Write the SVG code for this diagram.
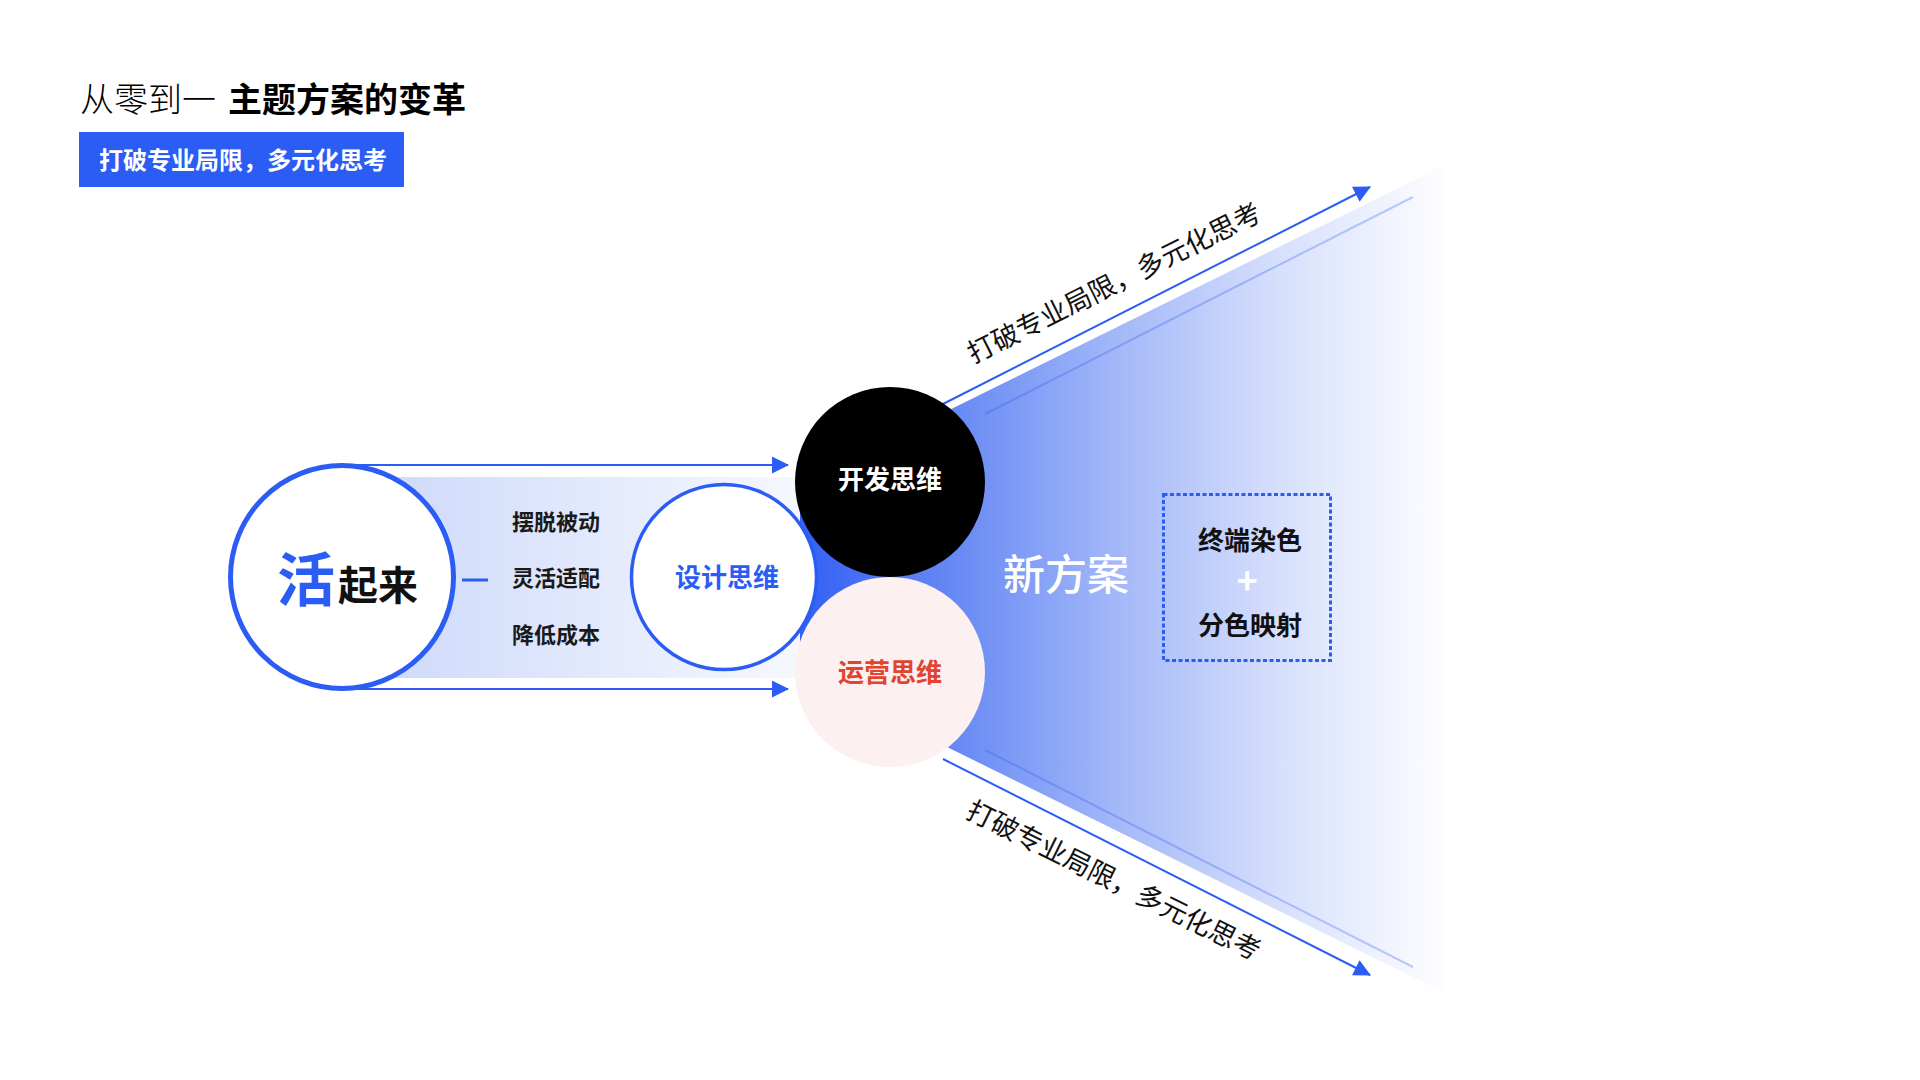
<svg xmlns="http://www.w3.org/2000/svg" width="1920" height="1080" viewBox="0 0 1920 1080">
<style>
  .t{font-family:'Noto Sans CJK SC','Noto Sans',sans-serif}
  .b{font-weight:700}
  .l{font-weight:300}
  .mid{text-anchor:middle}
  .arrow{stroke:#2b5df5;stroke-width:2;fill:none;marker-end:url(#ah)}
  .thin{stroke:#2b5df5;stroke-opacity:0.3;stroke-width:2}
</style>
<defs>
  <marker id="ah" markerUnits="userSpaceOnUse" markerWidth="17" markerHeight="17" refX="16" refY="8.5" orient="auto">
    <path d="M0,0 L17,8.5 L0,17 z" fill="#2b5df5"/>
  </marker>
  <linearGradient id="coneGrad" gradientUnits="userSpaceOnUse" x1="780" y1="0" x2="1450" y2="0">
    <stop offset="0" stop-color="#2d5bf5"/>
    <stop offset="0.25" stop-color="#6487f4"/>
    <stop offset="0.5" stop-color="#a3b7f8"/>
    <stop offset="0.75" stop-color="#d7e0fc"/>
    <stop offset="1" stop-color="#ffffff"/>
  </linearGradient>
  <linearGradient id="bandGrad" gradientUnits="userSpaceOnUse" x1="400" y1="0" x2="800" y2="0">
    <stop offset="0" stop-color="#d0dbfb"/>
    <stop offset="1" stop-color="#f6f8fe"/>
  </linearGradient>
</defs>
<rect width="1920" height="1080" fill="#ffffff"/>

<g id="title">
  <text class="t" x="80" y="112" font-size="34"><tspan class="l">从零到一</tspan><tspan class="b" x="228">主题方案的变革</tspan></text>
</g>
<g id="subtitle">
  <rect x="79" y="132" width="325" height="55" fill="#2b5df5"/>
  <text class="t b mid" x="243" y="168.5" font-size="24" fill="#ffffff">打破专业局限，多元化思考</text>
</g>

<g id="cone">
  <polygon points="607,579 1445,165 1445,993" fill="url(#coneGrad)"/>
</g>
<g id="band">
  <rect x="342" y="477" width="458" height="201" fill="url(#bandGrad)"/>
</g>

<g id="connectors">
  <line class="arrow" x1="342" y1="465" x2="788" y2="465"/>
  <line class="arrow" x1="342" y1="689" x2="788" y2="689"/>
  <line class="arrow" x1="943" y1="404" x2="1370" y2="187"/>
  <line class="arrow" x1="943" y1="759" x2="1370" y2="975"/>
  <line class="thin" x1="985" y1="414" x2="1413" y2="197"/>
  <line class="thin" x1="985" y1="750" x2="1413" y2="967"/>
  <line x1="462" y1="580" x2="488" y2="580" stroke="#2b5df5" stroke-width="3"/>
</g>

<g id="node-huo">
  <circle cx="342" cy="577" r="111.5" fill="#ffffff" stroke="#2b5df5" stroke-width="5"/>
  <text class="t b" x="277" y="601" font-size="58" fill="#2b5df5">活</text>
  <text class="t b" x="338" y="600" font-size="40" fill="#111111">起来</text>
</g>

<g id="labels">
  <text class="t b mid" x="556" y="530" font-size="22" fill="#1a1a1a">摆脱被动</text>
  <text class="t b mid" x="556" y="586" font-size="22" fill="#1a1a1a">灵活适配</text>
  <text class="t b mid" x="556" y="643" font-size="22" fill="#1a1a1a">降低成本</text>
</g>

<g id="node-design">
  <circle cx="724" cy="577" r="92.5" fill="#ffffff" stroke="#2b5df5" stroke-width="3.5"/>
  <text class="t b mid" x="727" y="587" font-size="26" fill="#2b5df5">设计思维</text>
</g>

<g id="node-dev">
  <circle cx="890" cy="482" r="95" fill="#000000"/>
  <text class="t b mid" x="890" y="489" font-size="26" fill="#ffffff">开发思维</text>
</g>

<g id="node-ops">
  <circle cx="890" cy="672" r="95" fill="#fcf0f1"/>
  <text class="t b mid" x="890" y="682" font-size="26" fill="#e3432f">运营思维</text>
</g>

<g id="label-top">
  <text class="t mid" transform="translate(1114,282.5) rotate(-26.5)" x="0" y="10" font-size="27" fill="#111111">打破专业局限，多元化思考</text>
</g>
<g id="label-bottom">
  <text class="t mid" transform="translate(1114,880) rotate(26.4)" x="0" y="10" font-size="27" fill="#111111">打破专业局限，多元化思考</text>
</g>

<g id="node-new">
  <text class="t mid" x="1066" y="590" font-size="42" font-weight="500" fill="#ffffff">新方案</text>
</g>

<g id="node-box">
  <rect x="1163.5" y="494.5" width="167" height="166" fill="none" stroke="#2b5df5" stroke-width="3" stroke-dasharray="4 2.5"/>
  <text class="t b mid" x="1250" y="550" font-size="26" fill="#111111">终端染色</text>
  <text class="t b mid" x="1247" y="594" font-size="36" fill="#ffffff">+</text>
  <text class="t b mid" x="1250" y="635" font-size="26" fill="#111111">分色映射</text>
</g>
</svg>
